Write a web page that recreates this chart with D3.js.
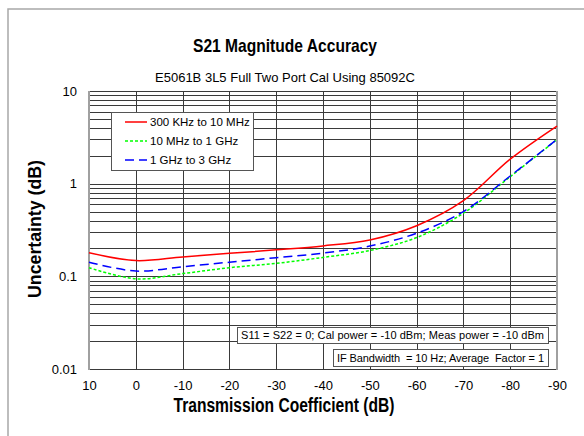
<!DOCTYPE html>
<html><head><meta charset="utf-8">
<script src="https://cdn.jsdelivr.net/npm/d3@7"></script>
<style>body{margin:0;background:#fff;font-family:"Liberation Sans",Arial,sans-serif} text{white-space:pre}</style>
</head><body>
<svg id="c" width="584" height="436"></svg>
<script>
const xValues = [10, 0, -10, -20, -30, -40, -50, -60, -70, -80, -90];
const red   = [0.180, 0.148, 0.162, 0.177, 0.193, 0.213, 0.247, 0.352, 0.655, 1.84, 4.19];
const green = [0.124, 0.094, 0.107, 0.124, 0.138, 0.160, 0.190, 0.262, 0.48, 1.19, 3.00];
const blue  = [0.142, 0.114, 0.127, 0.142, 0.159, 0.178, 0.212, 0.292, 0.50, 1.21, 3.01];
const seriesNames = ["300 KHz to 10 MHz", "10 MHz to 1 GHz", "1 GHz to 3 GHz"];
const yTickLabels = ["10", "1", "0.1", "0.01"];
const xTickLabels = ["10", "0", "-10", "-20", "-30", "-40", "-50", "-60", "-70", "-80", "-90"];
const notes = ["S11 = S22 = 0; Cal power = -10 dBm; Meas power = -10 dBm", "IF Bandwidth  = 10 Hz; Average  Factor = 1"];

const svg = d3.select("#c");
const L = 89, R = 557, T = 91, B = 369;
const x = d3.scaleLinear().domain([10, -90]).range([L, R]);
const y = d3.scaleLog().domain([0.01, 10]).range([B, T]);

// outer frame
svg.append("rect").attr("x", 8).attr("y", 9).attr("width", 620).attr("height", 460)
  .attr("fill", "none").attr("stroke", "#a8a8a8").attr("stroke-width", 1.5);

// grid
const g = svg.append("g");
const minor = [];
[0.01, 0.1, 1].forEach(d => { for (let k = 1; k <= 9; k++) minor.push(d * k); });
minor.push(10);
g.selectAll("line.h").data(minor).enter().append("line")
  .attr("x1", L).attr("x2", R).attr("y1", d => Math.round(y(d)) + 0.5).attr("y2", d => Math.round(y(d)) + 0.5)
  .attr("stroke", "#3a3a3a").attr("stroke-width", 1);
g.selectAll("line.v").data(xValues).enter().append("line")
  .attr("x1", d => Math.round(x(d)) + 0.5).attr("x2", d => Math.round(x(d)) + 0.5).attr("y1", T).attr("y2", B)
  .attr("stroke", "#3a3a3a").attr("stroke-width", 1);
[L, R].forEach(px => svg.append("line").attr("x1", px).attr("x2", px).attr("y1", T).attr("y2", B + 1)
  .attr("stroke", "#a0a0a0").attr("stroke-width", 2));

// axes labels via d3 axes
const yAxis = d3.axisLeft(y).tickValues([10, 1, 0.1, 0.01]).tickFormat((d, i) => yTickLabels[i]).tickSize(0).tickPadding(12);
svg.append("g").attr("transform", `translate(${L},0)`).call(yAxis)
  .call(a => a.select(".domain").remove())
  .selectAll("text").attr("font-size", 13).attr("font-family", "Liberation Sans, Arial").attr("fill", "#000");
const xAxis = d3.axisBottom(x).tickValues(xValues).tickFormat((d, i) => xTickLabels[i]).tickSize(0).tickPadding(12);
svg.append("g").attr("transform", `translate(0,${B})`).call(xAxis)
  .call(a => a.select(".domain").remove())
  .selectAll("text").attr("font-size", 13).attr("font-family", "Liberation Sans, Arial").attr("fill", "#000");

// lines
const line = d3.line().x((d, i) => x(xValues[i])).y(d => y(d)).curve(d3.curveCatmullRom.alpha(0.5));
const styles = [
  {data: red, color: "#ff0000", dash: null},
  {data: green, color: "#00ff00", dash: "3,2"},
  {data: blue, color: "#0000ff", dash: "9,5"}
];
styles.forEach(s => svg.append("path").datum(s.data).attr("d", line).attr("fill", "none")
  .attr("stroke", s.color).attr("stroke-width", 1.5).attr("stroke-dasharray", s.dash));

// legend
svg.append("rect").attr("x", 111.5).attr("y", 112.5).attr("width", 142).attr("height", 58)
  .attr("fill", "#fff").attr("stroke", "#555").attr("stroke-width", 1);
styles.forEach((s, i) => {
  const ly = 122 + i * 19;
  svg.append("line").attr("x1", 125).attr("x2", 147).attr("y1", ly).attr("y2", ly)
    .attr("stroke", s.color).attr("stroke-width", 1.5).attr("stroke-dasharray", s.dash);
  svg.append("text").attr("x", 150).attr("y", ly + 4).attr("font-size", 11.5).text(seriesNames[i]);
});

// note boxes
const boxes = [{x1: 237, x2: 548, y1: 327, y2: 343}, {x1: 333, x2: 548, y1: 349, y2: 366}];
boxes.forEach((b, i) => {
  svg.append("rect").attr("x", b.x1 + 0.5).attr("y", b.y1 + 0.5).attr("width", b.x2 - b.x1).attr("height", b.y2 - b.y1)
    .attr("fill", "#fff").attr("stroke", "#555");
  svg.append("text").attr("x", b.x1 + 4).attr("y", b.y2 - 4)
    .attr("font-size", 11).attr("textLength", b.x2 - b.x1 - 8).attr("lengthAdjust", "spacing").text(notes[i]);
});

// titles
svg.append("text").attr("x", 285).attr("y", 52).attr("text-anchor", "middle").attr("font-weight", "bold")
  .attr("font-size", 19).attr("textLength", 184).attr("lengthAdjust", "spacingAndGlyphs").text("S21 Magnitude Accuracy");
svg.append("text").attr("x", 285).attr("y", 82).attr("text-anchor", "middle")
  .attr("font-size", 13).text("E5061B 3L5 Full Two Port Cal Using 85092C");
svg.append("text").attr("x", 284).attr("y", 412).attr("text-anchor", "middle").attr("font-weight", "bold")
  .attr("font-size", 20).attr("textLength", 221).attr("lengthAdjust", "spacingAndGlyphs").text("Transmission Coefficient (dB)");
svg.append("text").attr("transform", "translate(41,229) rotate(-90)").attr("text-anchor", "middle").attr("font-weight", "bold")
  .attr("font-size", 19).attr("textLength", 138).attr("lengthAdjust", "spacingAndGlyphs").text("Uncertainty (dB)");
</script>
</body></html>
